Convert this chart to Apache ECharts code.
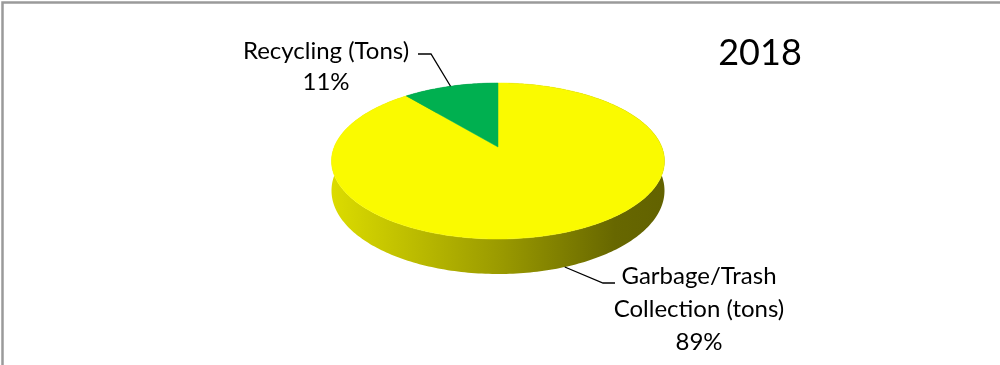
<!DOCTYPE html>
<html>
<head>
<meta charset="utf-8">
<script src="https://cdn.jsdelivr.net/npm/echarts@6/dist/echarts.min.js"></script>
<style>
  html, body { margin: 0; padding: 0; background: #ffffff; }
  #chart { width: 1000px; height: 365px; }
</style>
</head>
<body>
<div id="chart"></div>
<script>
// Chart content
const chartTitle = '2018';
const categories = ['Garbage/Trash\nCollection (tons)', 'Recycling (Tons)'];
const values = [89, 11];
const sliceColors = ['#FAFA00', '#00B050'];

// Tilted-disc geometry (pixels): apex, radii, perspective factor and wall height
const CX = 498, CY = 147, RX = 163.8, RY = 75.5, K = 0.1795, DEPTH = 28.7;
const FONT = 'Lato, "Liberation Sans", sans-serif';

// Label placement: text block top-centre, elbow of the leader and its end next to the text
const labelLayout = [
  { x: 699, y: 260, lineHeight: 33, elbow: [603, 283], end: [615, 283] },
  { x: 326, y: 36, lineHeight: 31, elbow: [431, 54], end: [418, 54] }
];

const total = values.reduce((a, b) => a + b, 0);
const cumulative = values.map((_, i) => values.slice(0, i).reduce((a, b) => a + b, 0));

// theta: clockwise angle from 12 o'clock; drop: point on the lower rim
function project(theta, drop) {
  const u = Math.sin(theta), d = Math.cos(theta);
  const w = 1 + K * d;
  return [CX + RX * u / w, CY - RY * d / w + (drop ? DEPTH / w : 0)];
}

function shade(hex, f) {
  const n = parseInt(hex.slice(1), 16);
  const r = Math.round(((n >> 16) & 255) * f);
  const g = Math.round(((n >> 8) & 255) * f);
  const b = Math.round((n & 255) * f);
  return 'rgb(' + r + ',' + g + ',' + b + ')';
}

function renderItem(params, api) {
  const i = params.dataIndex;
  const v = api.value(0);
  const a0 = cumulative[i] / total * Math.PI * 2;
  const a1 = (cumulative[i] + v) / total * Math.PI * 2;
  const steps = Math.max(8, Math.ceil((a1 - a0) / (Math.PI / 180)));
  const topArc = [], lowArc = [];
  for (let j = 0; j <= steps; j++) {
    const t = a0 + (a1 - a0) * j / steps;
    topArc.push(project(t, false));
    lowArc.push(project(t, true));
  }
  const color = sliceColors[i];
  const wall = {
    type: 'polygon',
    z2: 1,
    shape: { points: topArc.concat(lowArc.slice().reverse()) },
    style: {
      fill: {
        type: 'linear', global: true, x: CX - RX * 1.02, y: 0, x2: CX + RX * 1.02, y2: 0,
        colorStops: [
          { offset: 0, color: shade(color, 0.88) },
          { offset: 0.5, color: shade(color, 0.62) },
          { offset: 0.85, color: shade(color, 0.41) },
          { offset: 1, color: shade(color, 0.39) }
        ]
      },
      stroke: null
    }
  };
  const face = {
    type: 'polygon',
    z2: 2,
    shape: { points: [[CX, CY]].concat(topArc) },
    style: { fill: color, stroke: color, lineWidth: 0.5 }
  };

  // leader from the middle of the slice's rim to the label
  const mid = (a0 + a1) / 2;
  const anchor = project(mid, Math.cos(mid) < 0);
  const lay = labelLayout[i];
  const leader = {
    type: 'polyline',
    z2: 3,
    shape: { points: [anchor, lay.elbow, lay.end] },
    style: { stroke: '#000000', lineWidth: 1.3, fill: null }
  };
  const label = {
    type: 'text',
    z2: 3,
    x: lay.x,
    y: lay.y,
    style: {
      text: categories[i] + '\n' + Math.round(v / total * 100) + '%',
      font: '24px ' + FONT,
      lineHeight: lay.lineHeight,
      fill: '#000000',
      align: 'center',
      verticalAlign: 'top'
    }
  };
  return { type: 'group', children: [wall, face, leader, label] };
}

const chart = echarts.init(document.getElementById('chart'), null, { renderer: 'canvas' });
chart.setOption({
  animation: false,
  backgroundColor: '#ffffff',
  title: {
    text: chartTitle,
    left: 755,
    top: 30,
    textAlign: 'center',
    textStyle: { fontFamily: FONT, fontSize: 36, fontWeight: 'normal', color: '#000000' }
  },
  graphic: [{
    type: 'polyline',
    shape: { points: [[2.5, 365], [2.5, 2.5], [1000, 2.5]] },
    style: { stroke: '#9a9a9a', lineWidth: 2.5, fill: null },
    silent: true
  }],
  series: [{
    type: 'custom',
    coordinateSystem: 'none',
    renderItem: renderItem,
    data: values.map((v, i) => ({ name: categories[i], value: [v] }))
  }]
});
</script>
</body>
</html>
